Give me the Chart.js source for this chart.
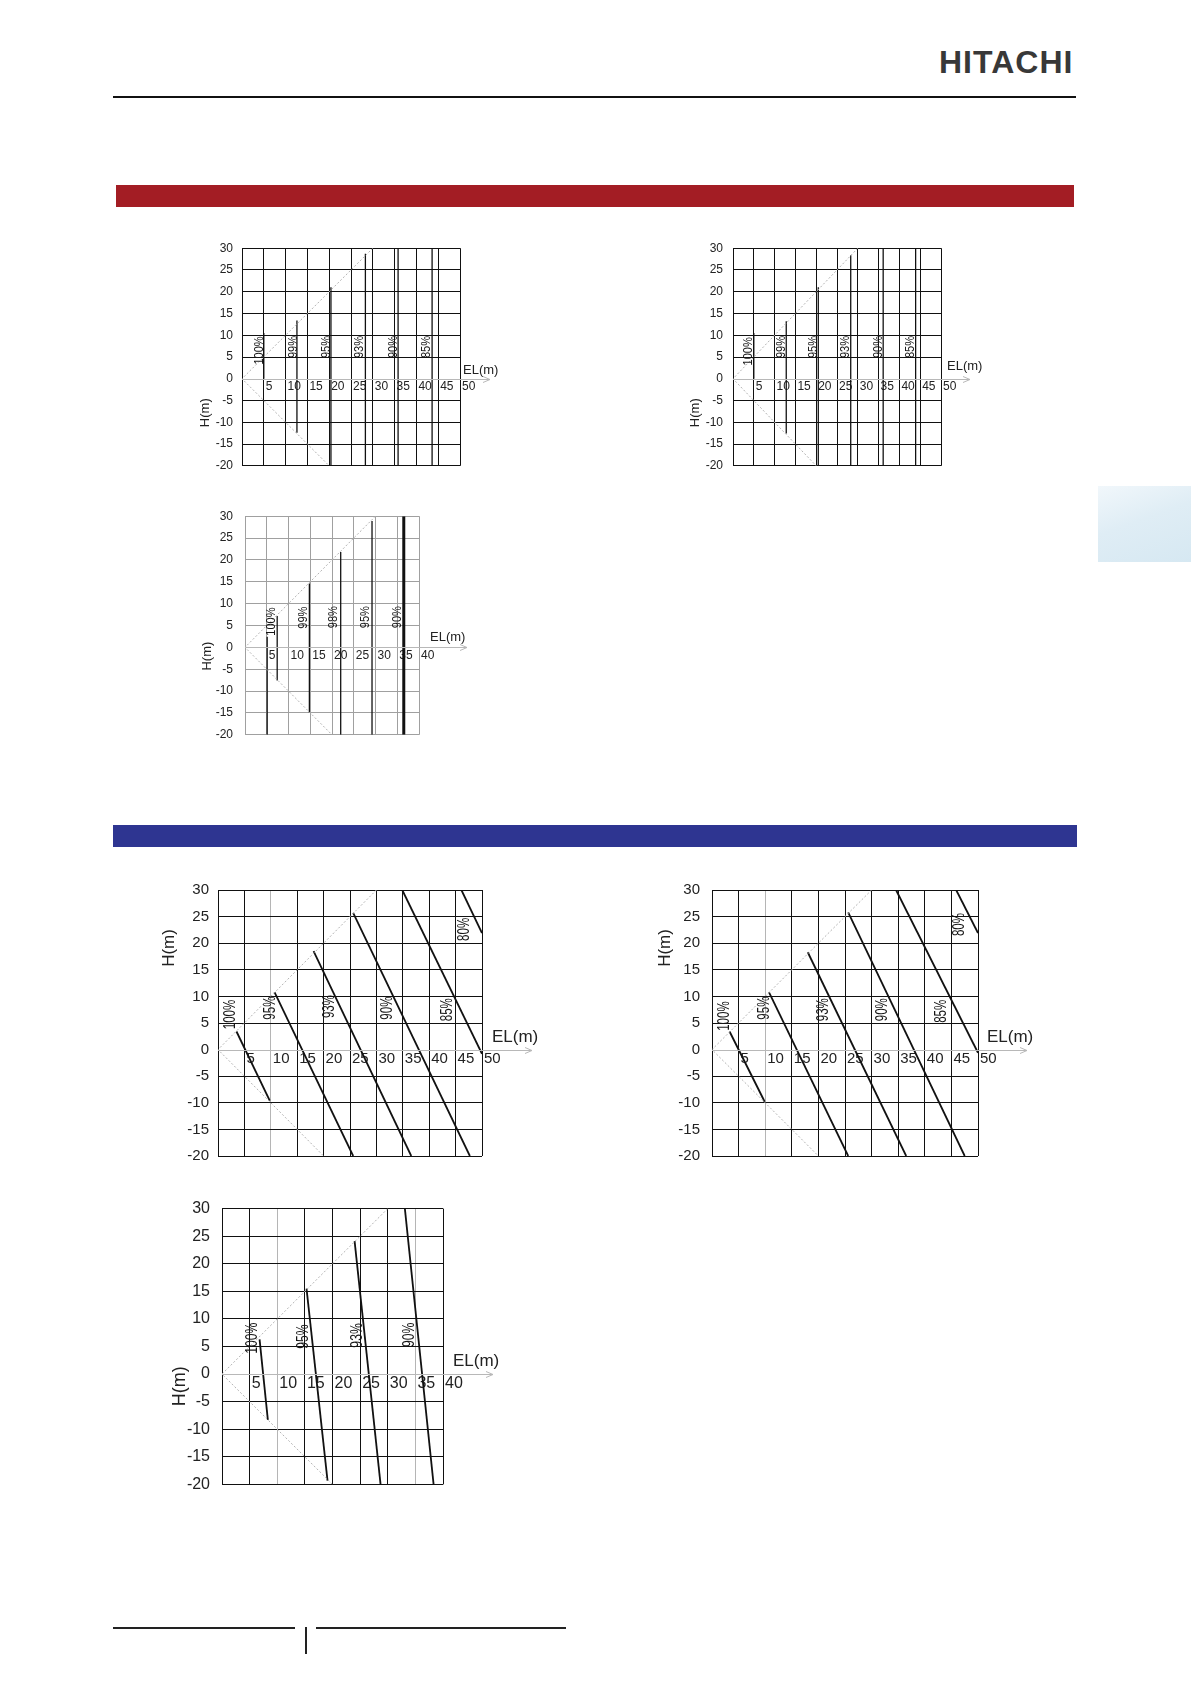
<!DOCTYPE html>
<html>
<head>
<meta charset="utf-8">
<script src="https://cdn.jsdelivr.net/npm/chart.js@4.4.1/dist/chart.umd.min.js"></script>
<style>
  html, body { margin: 0; padding: 0; background: #fff; }
  body { position: relative; width: 1191px; height: 1684px; overflow: hidden; font-family: "Liberation Sans", Arial, sans-serif; }
  .blk { position: absolute; }
  #logo { position: absolute; left: 939px; top: 46px; font: bold 32px/32px "Liberation Sans", Arial, sans-serif; color: #383838; letter-spacing: 1px; }
</style>
</head>
<body>
<div id="logo">HITACHI</div>
<div class="blk" style="left:113px;top:96px;width:963px;height:2px;background:#111"></div>
<div class="blk" style="left:116px;top:185px;width:958px;height:22px;background:#a31d24"></div>
<div class="blk" style="left:113px;top:825px;width:964px;height:22px;background:#2e3591"></div>
<div class="blk" style="left:1098px;top:486px;width:93px;height:76px;background:linear-gradient(160deg,#f1f7fb 0%,#dfedf5 45%,#d6e8f2 100%)"></div>
<div class="blk" style="left:113px;top:1627px;width:182px;height:2px;background:#222"></div>
<div class="blk" style="left:316px;top:1627px;width:250px;height:2px;background:#222"></div>
<div class="blk" style="left:305px;top:1627px;width:2px;height:27px;background:#222"></div>
<script>
// ==== data: EL = equivalent length (m), H = height difference (m) ====
const hTicks    = [-20, -15, -10, -5, 0, 5, 10, 15, 20, 25, 30];
const elTicks50 = [0, 5, 10, 15, 20, 25, 30, 35, 40, 45, 50];
const elTicks40 = [0, 5, 10, 15, 20, 25, 30, 35, 40];

// dotted limit line shared by all charts
const limitEL = [30, 0, 20];
const limitH  = [30, 0, -20];

// chart 1 (red section, left)
const c1Series = ['100%', '99%', '95%', '93%', '90%', '85%'];
const c1EL = [[5, 5], [12.6, 12.6], [20.4, 20.4], [28.3, 28.3], [35.8, 35.8], [43.6, 43.6]];
const c1H  = [[10.5, 0], [13.4, -12.4], [21, -20], [28.7, -20], [30, -20], [30, -20]];
const c1Tags  = ['100%', '99%', '95%', '93%', '90%', '85%'];
const c1TagEL = [3.9, 11.8, 19.4, 27.0, 34.8, 42.4];
const c1TagH  = [6.5, 7.3, 7.3, 7.3, 7.3, 7.3];

// chart 2 (red section, right)
const c2Series = ['100%', '99%', '95%', '93%', '90%', '85%'];
const c2EL = [[5, 5], [12.8, 12.8], [20.5, 20.5], [28.3, 28.3], [36.1, 36.1], [43.9, 43.9]];
const c2H  = [[10.5, 0], [13.2, -12.6], [21, -20], [28.4, -20], [30, -20], [30, -20]];
const c2Tags  = ['100%', '99%', '95%', '93%', '90%', '85%'];
const c2TagEL = [3.6, 11.6, 19.4, 27.0, 34.9, 42.7];
const c2TagH  = [6.3, 7.3, 7.3, 7.3, 7.3, 7.3];

// chart 3 (red section, lower)
const c3Series = ['100%', '100%', '99%', '98%', '95%', '90%'];
const c3EL = [[5.1, 5.1], [7.4, 7.4], [14.8, 14.8], [22.0, 22.0], [29.2, 29.2], [36.5, 36.5]];
const c3H  = [[2.4, -20], [7.2, -7.6], [14.6, -14.9], [21.8, -20], [28.9, -20], [30, -20]];
const c3Tags  = ['100%', '99%', '98%', '95%', '90%'];
const c3TagEL = [6.1, 13.4, 20.4, 27.7, 35.0];
const c3TagH  = [5.9, 6.8, 6.9, 6.9, 6.9];

// chart 4 (blue section, left)
const c4Series = ['100%', '95%', '93%', '90%', '85%', '80%'];
const c4EL = [[3.5, 9.8], [10.7, 25.6], [18.1, 36.6], [25.6, 47.7], [34.9, 50], [46.1, 50]];
const c4H  = [[3.4, -9.6], [10.8, -20], [18.5, -20], [25.7, -20], [30, -0.8], [30, 21.9]];
const c4Tags  = ['100%', '95%', '93%', '90%', '85%', '80%'];
const c4TagEL = [2.3, 10.0, 21.2, 32.2, 43.4, 46.7];
const c4TagH  = [6.6, 7.8, 8.1, 7.8, 7.5, 22.6];

// chart 5 (blue section, right)
const c5Series = ['100%', '95%', '93%', '90%', '85%', '80%'];
const c5EL = [[3.3, 9.9], [10.7, 25.6], [18.0, 36.5], [25.6, 47.5], [34.6, 50], [45.9, 50]];
const c5H  = [[3.4, -9.8], [10.8, -20], [18.3, -20], [25.8, -20], [30, -0.6], [30, 21.9]];
const c5Tags  = ['100%', '95%', '93%', '90%', '85%', '80%'];
const c5TagEL = [2.4, 9.9, 20.9, 32.1, 43.1, 46.6];
const c5TagH  = [6.3, 7.8, 7.5, 7.5, 7.2, 23.5];

// chart 6 (blue section, lower)
const c6Series = ['100%', '95%', '93%', '90%'];
const c6EL = [[6.8, 8.3], [15.3, 19.1], [24.0, 28.7], [33.1, 38.3]];
const c6H  = [[6.3, -8.3], [15.5, -19.3], [24.1, -20], [30, -20]];
const c6Tags  = ['100%', '95%', '93%', '90%'];
const c6TagEL = [5.6, 14.8, 24.6, 34.0];
const c6TagH  = [6.5, 6.8, 7.0, 7.1];

// ==== helpers ====
const FONT = '"Liberation Sans", Arial, sans-serif';

// arrow on the EL axis, rotated % tags, axis titles
const decor = {
  id: 'decor',
  afterDatasetsDraw(chart, args, o) {
    const { ctx, chartArea: a } = chart;
    const x = chart.scales.x, y = chart.scales.y;
    const y0 = Math.round(y.getPixelForValue(0)) + 0.5;
    const end = a.right + o.arrow;
    ctx.save();
    ctx.strokeStyle = '#b8b8b8';
    ctx.lineWidth = 1;
    ctx.beginPath();
    ctx.moveTo(a.left, y0); ctx.lineTo(end, y0);
    ctx.moveTo(end - 7, y0 - 3); ctx.lineTo(end, y0); ctx.lineTo(end - 7, y0 + 3);
    ctx.stroke();

    ctx.fillStyle = '#151515';
    ctx.font = o.tagSize + 'px ' + FONT;
    ctx.textAlign = 'center';
    ctx.textBaseline = 'middle';
    o.tags.forEach((t, i) => {
      ctx.save();
      ctx.translate(x.getPixelForValue(o.tagEL[i]), y.getPixelForValue(o.tagH[i]));
      ctx.rotate(-Math.PI / 2);
      ctx.scale(o.squash, 1);
      ctx.fillText(t, 0, 0);
      ctx.restore();
    });

    ctx.fillStyle = '#222';
    ctx.font = o.titleSize + 'px ' + FONT;
    ctx.textAlign = 'left';
    ctx.fillText('EL(m)', a.right + o.elDx, y0 + o.elDy);

    ctx.save();
    ctx.font = o.hSize + 'px ' + FONT;
    ctx.textAlign = 'center';
    ctx.translate(a.left - o.hDx, y.getPixelForValue(o.hAt));
    ctx.rotate(-Math.PI / 2);
    ctx.fillText('H(m)', 0, 0);
    ctx.restore();
    ctx.restore();
  }
};

function build(box, d, o) {
  const [left, top, w, h] = box;
  const cv = document.createElement('canvas');
  cv.width = o.yw + w + o.padR;
  cv.height = o.padT + h + o.padB;
  cv.style.position = 'absolute';
  document.body.appendChild(cv);

  const tickFont = { size: o.tickSize, family: FONT };
  const config = () => {
    const datasets = [{
      label: 'limit',
      data: limitEL.map((v, i) => ({ x: v, y: limitH[i] })),
      borderColor: '#b3b3b3', borderWidth: 1, borderDash: [2, 2]
    }];
    d.series.forEach((name, i) => datasets.push({
      label: name,
      data: d.el[i].map((v, k) => ({ x: v, y: d.h[i][k] })),
      borderColor: '#111',
      borderWidth: (o.wide || []).includes(i) ? 3 : o.lineW
    }));
    datasets.forEach(ds => { ds.showLine = true; ds.pointRadius = 0; ds.fill = false; });
    return {
      type: 'scatter',
      data: { datasets },
      options: {
        responsive: false,
        maintainAspectRatio: false,
        animation: false,
        events: [],
        layout: { autoPadding: false, padding: { left: 0, top: o.padT, right: o.padR, bottom: o.padB } },
        plugins: {
          legend: { display: false },
          tooltip: { enabled: false },
          decor: {
            tags: d.tags, tagEL: d.tagEL, tagH: d.tagH,
            tagSize: o.tagSize, squash: o.squash, titleSize: o.titleSize, hSize: o.hSize,
            arrow: o.arrow, elDx: o.elDx, elDy: o.elDy, hDx: o.hDx, hAt: o.hAt
          }
        },
        scales: {
          x: {
            type: 'linear', min: 0, max: d.elTicks[d.elTicks.length - 1],
            position: { y: 0 },
            afterBuildTicks: s => { s.ticks = d.elTicks.map(v => ({ value: v })); },
            afterFit: s => { s.height = 0; },
            grid: {
              drawTicks: false, lineWidth: 1,
              color: c => (c.tick && (o.grayX || []).includes(c.tick.value)) ? '#b5b5b5' : o.grid
            },
            border: { display: false },
            ticks: {
              autoSkip: false, maxRotation: 0, align: 'start', labelOffset: 2,
              padding: o.xPad, font: tickFont, color: '#222',
              callback: v => v === 0 ? '' : v
            }
          },
          y: {
            type: 'linear', min: -20, max: 30,
            afterBuildTicks: s => { s.ticks = hTicks.map(v => ({ value: v })); },
            afterFit: s => { s.width = o.yw; },
            grid: {
              drawTicks: false, lineWidth: 1,
              color: c => (c.tick && c.tick.value === 0) ? 'rgba(0,0,0,0)' : o.grid
            },
            border: { color: o.grid },
            ticks: { padding: o.yPad, font: tickFont, color: '#222' }
          }
        }
      },
      plugins: [decor]
    };
  };

  // first pass, then resize the canvas so the plot area gets exactly w x h
  let chart = new Chart(cv, config());
  const a = chart.chartArea;
  const dw = Math.round(w - (a.right - a.left));
  const dh = Math.round(h - (a.bottom - a.top));
  if (dw || dh) {
    chart.destroy();
    cv.width = o.yw + w + o.padR + dw;
    cv.height = o.padT + h + o.padB + dh;
    cv.style.position = 'absolute';
    chart = new Chart(cv, config());
  }
  cv.style.left = (left - chart.chartArea.left) + 'px';
  cv.style.top = (top - chart.chartArea.top) + 'px';
}

const small = { yw: 50, padT: 12, padR: 58, padB: 12, tickSize: 12, tagSize: 13, squash: 0.85,
                titleSize: 13, hSize: 13, lineW: 1.3, grid: '#111', xPad: 1 };
const big = { yw: 65, padT: 12, padR: 62, padB: 12, tickSize: 15, tagSize: 16, squash: 0.72,
              titleSize: 17, hSize: 17, lineW: 1.8, grid: '#111', xPad: 0 };

build([242, 248, 218, 218],
  { series: c1Series, el: c1EL, h: c1H, tags: c1Tags, tagEL: c1TagEL, tagH: c1TagH, elTicks: elTicks50 },
  Object.assign({}, small, { yPad: 9, arrow: 30, elDx: 3, elDy: -9, hDx: 37, hAt: -7.8 }));

build([733, 248, 208, 218],
  { series: c2Series, el: c2EL, h: c2H, tags: c2Tags, tagEL: c2TagEL, tagH: c2TagH, elTicks: elTicks50 },
  Object.assign({}, small, { yPad: 10, arrow: 29, elDx: 6, elDy: -13, hDx: 38, hAt: -7.8 }));

build([245, 516, 174, 219],
  { series: c3Series, el: c3EL, h: c3H, tags: c3Tags, tagEL: c3TagEL, tagH: c3TagH, elTicks: elTicks40 },
  Object.assign({}, small, { yPad: 12, arrow: 48, elDx: 11, elDy: -10, hDx: 38, hAt: -2,
                             grid: '#a0a0a0', wide: [5] }));

build([218, 890, 264, 266],
  { series: c4Series, el: c4EL, h: c4H, tags: c4Tags, tagEL: c4TagEL, tagH: c4TagH, elTicks: elTicks50 },
  Object.assign({}, big, { yPad: 9, arrow: 50, elDx: 10, elDy: -13, hDx: 49, hAt: 19.1, grayX: [10] }));

build([712, 890, 266, 266],
  { series: c5Series, el: c5EL, h: c5H, tags: c5Tags, tagEL: c5TagEL, tagH: c5TagH, elTicks: elTicks50 },
  Object.assign({}, big, { yPad: 12, arrow: 49, elDx: 9, elDy: -13, hDx: 47, hAt: 19.1, grayX: [10] }));

build([222, 1209, 221, 276],
  { series: c6Series, el: c6EL, h: c6H, tags: c6Tags, tagEL: c6TagEL, tagH: c6TagH, elTicks: elTicks40 },
  Object.assign({}, big, { yw: 62, tickSize: 16, squash: 0.76, hSize: 18, yPad: 12, arrow: 50,
                           elDx: 10, elDy: -13, hDx: 42, hAt: -2.2, grayX: [10, 35] }));
</script>
</body>
</html>
